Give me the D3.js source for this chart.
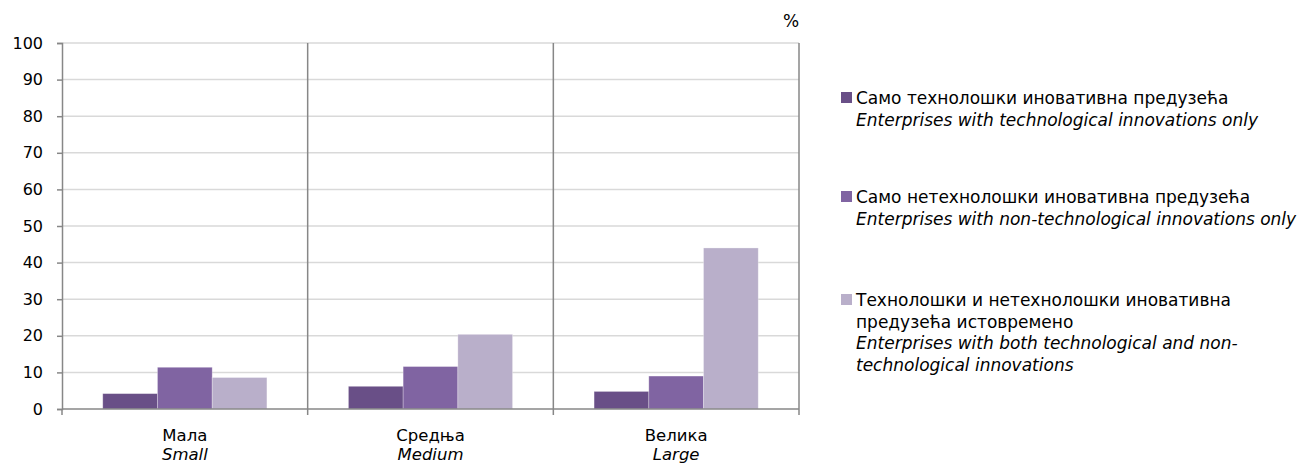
<!DOCTYPE html>
<html>
<head>
<meta charset="utf-8">
<script src="https://cdn.jsdelivr.net/npm/d3@7"></script>
<style>
  body { margin: 0; background: #fff; }
  text { font-family: "DejaVu Sans", sans-serif; fill: #000; }
</style>
</head>
<body>
<div id="chart"></div>
<script>
// Data
const categories = ["Мала", "Средња", "Велика"];
const categoriesEn = ["Small", "Medium", "Large"];
const techOnly = [4.2, 6.2, 4.8];
const nonTechOnly = [11.4, 11.6, 9.0];
const both = [8.6, 20.4, 44.0];
const yTicks = [0, 10, 20, 30, 40, 50, 60, 70, 80, 90, 100];

const colors = ["#694f87", "#8064a2", "#b9afca"];
const seriesValues = [techOnly, nonTechOnly, both];

// legend lines (wrapped like the original)
const legendLines = [
  [["Само технолошки иновативна предузећа", false], ["Enterprises with technological innovations only", true]],
  [["Само нетехнолошки иновативна предузећа", false], ["Enterprises with non-technological innovations only", true]],
  [["Технолошки и нетехнолошки иновативна", false], ["предузећа истовремено", false], ["Enterprises with both technological and non-", true], ["technological innovations", true]]
];

const W = 1316, H = 465;
const margin = { top: 43, left: 62 },
    width = 799 - 62,
    height = 409 - 43;

const svg = d3.select("#chart")
  .append("svg")
    .attr("width", W)
    .attr("height", H);

const g = svg.append("g")
    .attr("transform", `translate(${margin.left},${margin.top})`);

const x0 = d3.scaleBand()
  .domain(categories)
  .range([0, width])
  .paddingInner(0).paddingOuter(0);

const x1 = d3.scaleBand()
  .domain([0, 1, 2])
  .range([0, x0.bandwidth()])
  .paddingInner(0)
  .paddingOuter(0.745);

const y = d3.scaleLinear()
  .domain([0, 100])
  .range([height, 0]);

// gridlines
g.selectAll(".grid")
  .data(yTicks.slice(1))
  .join("line")
  .attr("x1", 0).attr("x2", width)
  .attr("y1", d => y(d)).attr("y2", d => y(d))
  .attr("stroke", "#d9d9d9")
  .attr("stroke-width", 1.5);

// category separators and right border
g.selectAll(".sep")
  .data(categories)
  .join("line")
  .attr("x1", d => x0(d) + x0.bandwidth()).attr("x2", d => x0(d) + x0.bandwidth())
  .attr("y1", 0).attr("y2", height + 6)
  .attr("stroke", "#878787")
  .attr("stroke-width", 1.5);

// bars
categories.forEach((c, ci) => {
  g.selectAll(null)
    .data(seriesValues.map((s, si) => ({ si, v: s[ci] })))
    .join("rect")
    .attr("x", d => x0(c) + x1(d.si))
    .attr("y", d => y(d.v))
    .attr("width", x1.bandwidth())
    .attr("height", d => y(0) - y(d.v))
    .attr("fill", d => colors[d.si])
    .attr("stroke", "#ffffff")
    .attr("stroke-opacity", 0.35)
    .attr("stroke-width", 0.8);
});

// y axis
const yAxis = g.append("g")
  .call(d3.axisLeft(y).tickValues(yTicks).tickSize(5).tickPadding(14));
yAxis.select(".domain").attr("stroke", "#878787").attr("stroke-width", 1.5);
yAxis.selectAll(".tick line").attr("stroke", "#878787").attr("stroke-width", 1.5);
yAxis.selectAll(".tick text")
  .style("font-size", "16px")
  .style("font-family", "'DejaVu Sans', sans-serif");

// x axis line
g.append("line")
  .attr("x1", 0).attr("x2", width)
  .attr("y1", height).attr("y2", height)
  .attr("stroke", "#878787")
  .attr("stroke-width", 1.5);
g.append("line")
  .attr("x1", 0).attr("x2", 0)
  .attr("y1", height).attr("y2", height + 6)
  .attr("stroke", "#878787")
  .attr("stroke-width", 1.5);

// category labels
const lab = g.selectAll(".cat")
  .data(categories)
  .join("text")
  .attr("x", d => x0(d) + x0.bandwidth() / 2)
  .attr("y", height + 32)
  .attr("text-anchor", "middle")
  .style("font-size", "16.5px");
lab.append("tspan").text(d => d);
lab.append("tspan")
  .attr("x", d => x0(d) + x0.bandwidth() / 2)
  .attr("dy", 19)
  .style("font-style", "italic")
  .text((d, i) => categoriesEn[i]);

// percent sign
svg.append("text")
  .attr("x", 791).attr("y", 27)
  .attr("text-anchor", "middle")
  .style("font-size", "17px")
  .text("%");

// legend
const legendY = [98, 197, 300];
legendLines.forEach((lines, i) => {
  const lg = svg.append("g").attr("transform", `translate(841,${legendY[i]})`);
  lg.append("rect")
    .attr("x", 0).attr("y", -6)
    .attr("width", 11).attr("height", 11)
    .attr("fill", colors[i]);
  lines.forEach((l, j) => {
    lg.append("text")
      .attr("x", 15)
      .attr("y", j * 21.5 + 6)
      .style("font-size", "17px")
      .style("font-style", l[1] ? "italic" : "normal")
      .text(l[0]);
  });
});
</script>
</body>
</html>
